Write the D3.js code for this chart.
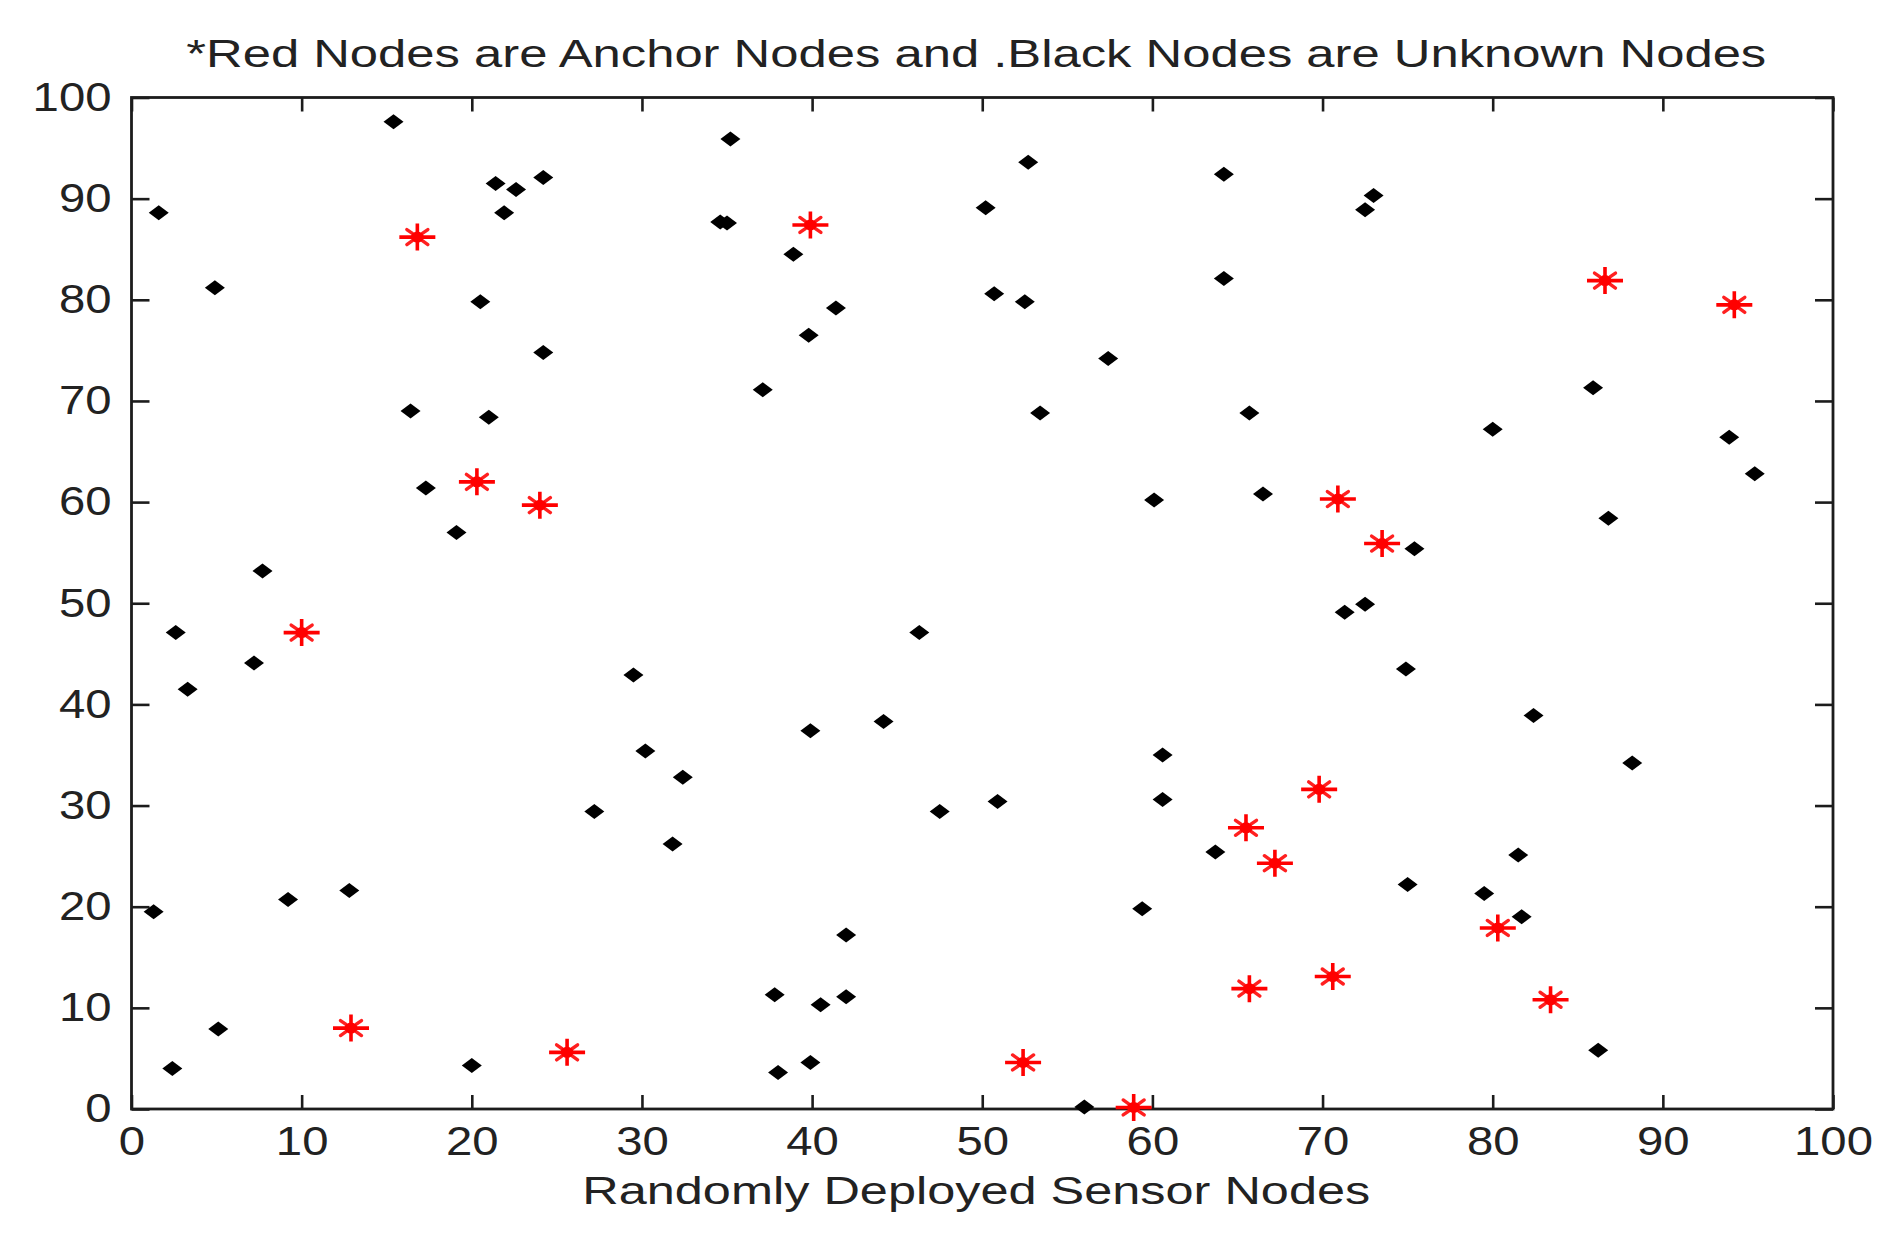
<!DOCTYPE html>
<html>
<head>
<meta charset="utf-8">
<script src="https://cdn.jsdelivr.net/npm/d3@7"></script>
<style>
html,body{margin:0;padding:0;background:#fff;}
svg{display:block;}
text{font-family:"Liberation Sans",Arial,sans-serif;fill:#222;}
</style>
</head>
<body>
<svg id="chart" width="1890" height="1236"></svg>
<script>
// ---- data ----
const titleText = "*Red Nodes are Anchor Nodes and .Black Nodes are Unknown Nodes";
const xLabelText = "Randomly Deployed Sensor Nodes";
const tickValues = [0,10,20,30,40,50,60,70,80,90,100];

// Unknown (black) nodes
const unknownX = [1.6,1.3,2.6,3.3,2.4,4.9,5.1,7.2,7.7,9.2,12.8,15.4,16.4,17.3,19.1,20.0,20.5,21.0,21.4,21.9,22.6,24.2,24.2,27.2,29.5,30.2,31.8,32.4,34.6,35.0,35.2,37.1,38.9,37.8,38.0,39.8,39.9,39.9,40.5,41.4,42.0,42.0,44.2,46.3,47.5,50.2,50.7,50.9,52.5,52.7,53.4,56.0,57.4,59.4,60.1,60.6,60.6,63.7,64.2,64.2,65.7,66.5,71.3,72.5,72.5,73.0,74.9,75.0,75.4,79.5,80.0,81.5,81.7,82.4,85.9,86.2,86.8,88.2,93.9,95.4];
const unknownY = [88.6,19.5,47.1,41.5,4.0,81.2,7.9,44.1,53.2,20.7,21.6,97.6,69.0,61.4,57.0,4.3,79.8,68.4,91.5,88.6,90.9,92.1,74.8,29.4,42.9,35.4,26.2,32.8,87.7,87.6,95.9,71.1,84.5,11.3,3.6,76.5,37.4,4.6,10.3,79.2,17.2,11.1,38.3,47.1,29.4,89.1,80.6,30.4,79.8,93.6,68.8,0.2,74.2,19.8,60.2,35.0,30.6,25.4,92.4,82.1,68.8,60.8,49.1,49.9,88.9,90.3,43.5,22.2,55.4,21.3,67.2,25.1,19.0,38.9,71.3,5.8,58.4,34.2,66.4,62.8];

// Anchor (red) nodes
const anchorX = [16.8,39.9,86.6,94.2,20.3,24.0,10.0,70.9,73.5,69.8,65.5,67.2,80.3,65.7,70.6,83.4,12.9,25.6,52.4,58.9];
const anchorY = [86.2,87.4,81.9,79.5,62.0,59.7,47.1,60.3,55.9,31.6,27.8,24.3,17.9,11.9,13.1,10.8,8.0,5.6,4.6,0.15];

// ---- drawing ----
const svg = d3.select("#chart");
const L = 131.5, R = 1833, T = 97.5, B = 1109;
const x = d3.scaleLinear().domain([0,100]).range([L,R]);
const y = d3.scaleLinear().domain([0,100]).range([B,T]);

const axisColor = "#1c1c1c";
function styleAxis(g){
  g.select(".domain").remove();
  g.selectAll(".tick line").attr("stroke",axisColor).attr("stroke-width",2.6);
  g.selectAll("text").attr("font-size",40).attr("fill","#222")
    .attr("font-family",'"Liberation Sans",Arial,sans-serif')
    .each(function(){ const t=d3.select(this); const s=t.text(); if(s) t.attr("textLength", 26.3*s.length).attr("lengthAdjust","spacingAndGlyphs"); });
}

svg.append("g").attr("transform",`translate(0,${B})`)
  .call(d3.axisBottom(x).tickValues(tickValues).tickSizeInner(-14).tickSizeOuter(0).tickPadding(18))
  .call(styleAxis);
svg.append("g").attr("transform",`translate(0,${T})`)
  .call(d3.axisTop(x).tickValues(tickValues).tickSizeInner(-14).tickSizeOuter(0).tickFormat(""))
  .call(styleAxis);
svg.append("g").attr("transform",`translate(${L},0)`)
  .call(d3.axisLeft(y).tickValues(tickValues).tickSizeInner(-18).tickSizeOuter(0).tickPadding(20))
  .call(styleAxis);
svg.append("g").attr("transform",`translate(${R},0)`)
  .call(d3.axisRight(y).tickValues(tickValues).tickSizeInner(-18).tickSizeOuter(0).tickFormat(""))
  .call(styleAxis);

svg.append("rect").attr("x",L).attr("y",T).attr("width",R-L).attr("height",B-T)
  .attr("fill","none").attr("stroke",axisColor).attr("stroke-width",2.8);

svg.append("text").attr("x",(L+R)/2 - 6).attr("y",67).attr("text-anchor","middle")
  .attr("font-size",38).attr("textLength",1580).attr("lengthAdjust","spacingAndGlyphs").text(titleText);
svg.append("text").attr("x",(L+R)/2 - 6).attr("y",1204).attr("text-anchor","middle")
  .attr("font-size",38).attr("textLength",788).attr("lengthAdjust","spacingAndGlyphs").text(xLabelText);

// unknown nodes: black diamonds
const unknown = unknownX.map((v,i)=>({x:v,y:unknownY[i]}));
svg.append("g").selectAll("path").data(unknown).enter().append("path")
  .attr("transform",d=>`translate(${x(d.x)},${y(d.y)})`)
  .attr("d","M0,-7.5 L10,0 L0,7.5 L-10,0 Z").attr("fill","#000");

// anchor nodes: red asterisks
const anchors = anchorX.map((v,i)=>({x:v,y:anchorY[i]}));
const ag = svg.append("g").selectAll("g").data(anchors).enter().append("g")
  .attr("transform",d=>`translate(${x(d.x)},${y(d.y)})`);
ag.append("path").attr("d","M-18,0 L18,0 M0,-13.5 L0,13.5")
  .attr("stroke","#ff0000").attr("stroke-width",3.6).attr("fill","none");
ag.append("path").attr("d","M-5,-3.6 L-10.5,-7.5 M5,-3.6 L10.5,-7.5 M-5,3.6 L-10.5,7.5 M5,3.6 L10.5,7.5")
  .attr("stroke","#ff2020").attr("stroke-width",3.4).attr("stroke-linecap","round").attr("fill","none");
ag.append("ellipse").attr("rx",6.5).attr("ry",5.5).attr("fill","#ff0000");
</script>
</body>
</html>
